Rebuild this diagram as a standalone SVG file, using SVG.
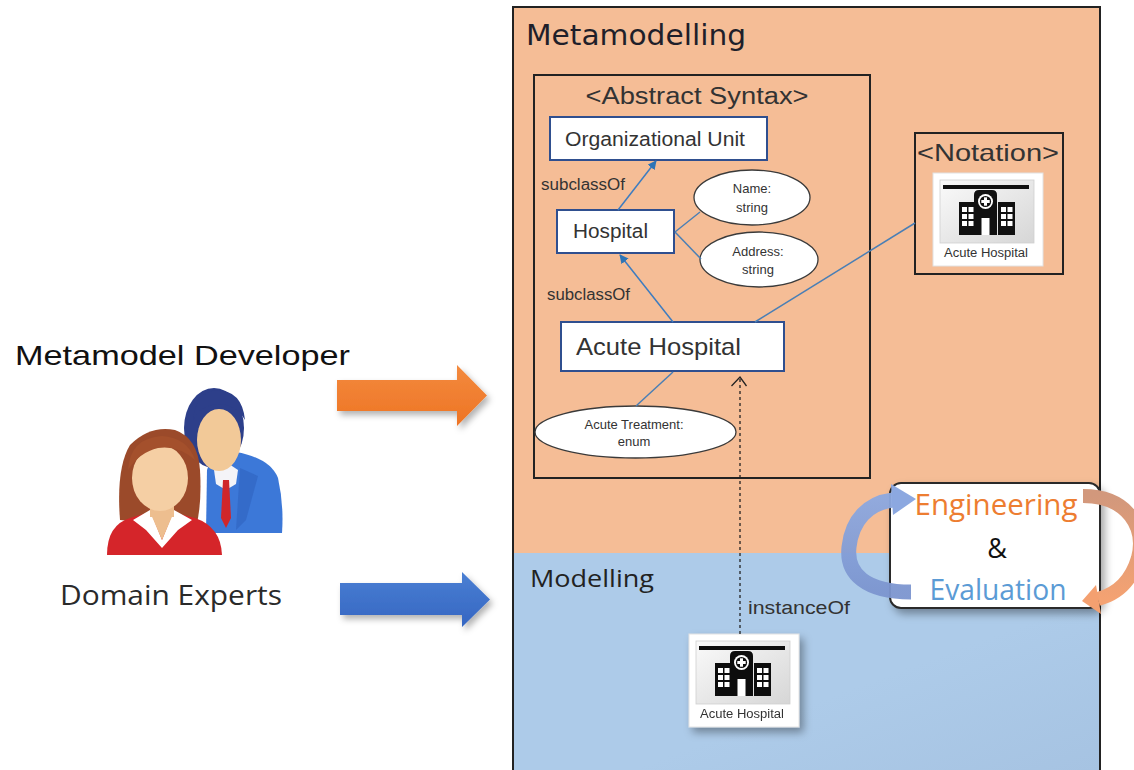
<svg xmlns="http://www.w3.org/2000/svg" width="1134" height="770" viewBox="0 0 1134 770">
  <defs>
    <style>
      .cls { fill: #ffffff; stroke: #2F4F8F; stroke-width: 2; }
      .attr { fill: #ffffff; stroke: #3a3a3a; stroke-width: 1.3; }
      .frame { fill: none; stroke: #222; stroke-width: 2; }
      .t { font-family: "Liberation Sans", Arial, sans-serif; fill: #333; }
      .small { font-family: "Liberation Sans", Arial, sans-serif; font-size: 13px; fill: #333; text-anchor: middle; }
      .link { stroke: #4A7FB5; stroke-width: 1.5; fill: none; }
      .gen { stroke: #3D7CC0; stroke-width: 1.5; fill: none; marker-end: url(#tri); }
    </style>
    <marker id="tri" viewBox="0 0 10 10" refX="9" refY="5" markerWidth="9" markerHeight="9" markerUnits="userSpaceOnUse" orient="auto">
      <path d="M0,0 L10,5 L0,10 z" fill="#2E75B6"/>
    </marker>
    <linearGradient id="orangeArrow" x1="0" y1="0" x2="0" y2="1">
      <stop offset="0" stop-color="#F38A3E"/>
      <stop offset="1" stop-color="#EE7424"/>
    </linearGradient>
    <linearGradient id="blueArrow" x1="0" y1="0" x2="0" y2="1">
      <stop offset="0" stop-color="#4A7FD3"/>
      <stop offset="1" stop-color="#3566C2"/>
    </linearGradient>
    <linearGradient id="iconBg" x1="0" y1="0" x2="1" y2="1">
      <stop offset="0" stop-color="#fafafa"/>
      <stop offset="1" stop-color="#d6d6d6"/>
    </linearGradient>
    <linearGradient id="loopBlue" x1="0" y1="0" x2="0" y2="1">
      <stop offset="0" stop-color="#8CA8E0"/>
      <stop offset="1" stop-color="#7C95CF"/>
    </linearGradient>
    <linearGradient id="loopOrange" x1="0" y1="0" x2="0" y2="1">
      <stop offset="0" stop-color="#D2987C"/>
      <stop offset="1" stop-color="#F4A272"/>
    </linearGradient>
    <linearGradient id="blueBg" x1="0" y1="0" x2="1" y2="1">
      <stop offset="0.6" stop-color="#ADCBE9"/>
      <stop offset="1" stop-color="#A6C3E2"/>
    </linearGradient>
    <filter id="shadow" x="-20%" y="-20%" width="150%" height="150%">
      <feDropShadow dx="4" dy="5" stdDeviation="4" flood-color="#000" flood-opacity="0.35"/>
    </filter>
    <filter id="softShadow" x="-20%" y="-20%" width="150%" height="150%">
      <feDropShadow dx="3" dy="4" stdDeviation="3" flood-color="#000" flood-opacity="0.3"/>
    </filter>

    <!-- hospital notation icon, 110 x 93 -->
    <g id="hospitalIcon">
      <rect x="0" y="0" width="110" height="93" fill="#ffffff" stroke="#e2e2e2" stroke-width="1"/>
      <rect x="7" y="7" width="94" height="63" fill="url(#iconBg)" stroke="#cfcfcf" stroke-width="0.8"/>
      <rect x="10" y="12" width="86" height="4" fill="#111"/>
      <!-- wings -->
      <rect x="26" y="29" width="17" height="33" fill="#111"/>
      <rect x="65" y="29" width="17" height="33" fill="#111"/>
      <!-- tower -->
      <path d="M41,62 V22 Q41,17 46,17 H59 Q64,17 64,22 V62 Z" fill="#111"/>
      <circle cx="52.5" cy="28.5" r="7.5" fill="#ffffff"/>
      <circle cx="52.5" cy="28.5" r="5.6" fill="#111"/>
      <rect x="51" y="24.3" width="3" height="8.4" fill="#fff"/>
      <rect x="48.3" y="27" width="8.4" height="3" fill="#fff"/>
      <rect x="48.5" y="45" width="8" height="17" fill="#fff"/>
      <!-- windows -->
      <g fill="#fff">
        <rect x="29" y="34" width="5" height="5"/><rect x="35.5" y="34" width="5" height="5"/>
        <rect x="29" y="41" width="5" height="5"/><rect x="35.5" y="41" width="5" height="5"/>
        <rect x="29" y="48" width="5" height="5"/><rect x="35.5" y="48" width="5" height="5"/>
        <rect x="68" y="34" width="5" height="5"/><rect x="74.5" y="34" width="5" height="5"/>
        <rect x="68" y="41" width="5" height="5"/><rect x="74.5" y="41" width="5" height="5"/>
        <rect x="68" y="48" width="5" height="5"/><rect x="74.5" y="48" width="5" height="5"/>
      </g>
      <text x="53" y="84" font-family="'Liberation Sans', Arial, sans-serif" font-size="12" fill="#333" text-anchor="middle" textLength="84" lengthAdjust="spacingAndGlyphs">Acute Hospital</text>
    </g>
  </defs>

  <rect width="1134" height="770" fill="#ffffff"/>

  <!-- Metamodelling / Modelling panes -->
  <g id="metamodelling">
    <rect x="513" y="7" width="587" height="546" fill="#F5BD96"/>
    <text x="526" y="45" font-family="'DejaVu Sans', Verdana, sans-serif" font-size="28" fill="#1f1f2a" textLength="220" lengthAdjust="spacingAndGlyphs">Metamodelling</text>
  </g>
  <g id="modelling">
    <rect x="513" y="553" width="587" height="217" fill="url(#blueBg)"/>
    <text x="530" y="587" font-family="'Open Sans', 'Liberation Sans', sans-serif" font-size="24" fill="#222" textLength="124" lengthAdjust="spacingAndGlyphs">Modelling</text>
  </g>
  <path d="M513,770 V7 H1100 V770" class="frame"/>

  <!-- Abstract syntax container -->
  <g id="abstract-syntax">
    <rect x="534" y="75" width="336" height="403" class="frame"/>
    <text x="697" y="104" class="t" font-size="23" text-anchor="middle" textLength="223" lengthAdjust="spacingAndGlyphs">&lt;Abstract Syntax&gt;</text>
  </g>

  <g id="organizational-unit">
    <rect x="550" y="117" width="217" height="43" class="cls"/>
    <text x="565" y="146" class="t" font-size="20" textLength="180" lengthAdjust="spacingAndGlyphs">Organizational Unit</text>
  </g>

  <g id="hospital">
    <rect x="557" y="210" width="117" height="43" class="cls"/>
    <text x="573" y="238" class="t" font-size="20" textLength="75" lengthAdjust="spacingAndGlyphs">Hospital</text>
  </g>

  <g id="acute-hospital">
    <rect x="561" y="322" width="223" height="49" class="cls"/>
    <text x="576" y="355" class="t" font-size="24" textLength="165" lengthAdjust="spacingAndGlyphs">Acute Hospital</text>
  </g>

  <g id="attr-name">
    <ellipse cx="752" cy="197.5" rx="58" ry="27.5" class="attr"/>
    <text x="752" y="193" class="small">Name:</text>
    <text x="752" y="212" class="small">string</text>
  </g>

  <g id="attr-address">
    <ellipse cx="759" cy="259.5" rx="59" ry="27.5" class="attr"/>
    <text x="758" y="256" class="small">Address:</text>
    <text x="758" y="274" class="small">string</text>
  </g>

  <g id="attr-acute-treatment">
    <ellipse cx="635.5" cy="432" rx="100.5" ry="26" class="attr"/>
    <text x="634" y="429" class="small">Acute Treatment:</text>
    <text x="634" y="446" class="small">enum</text>
  </g>

  <g id="notation">
    <rect x="915" y="133" width="148" height="141" class="frame"/>
    <text x="988" y="161" class="t" font-size="24" text-anchor="middle" textLength="142" lengthAdjust="spacingAndGlyphs">&lt;Notation&gt;</text>
    <use href="#hospitalIcon" x="933" y="173"/>
  </g>

  <g id="instance-icon" filter="url(#shadow)">
    <use href="#hospitalIcon" x="689" y="634"/>
  </g>

  <!-- connectors -->
  <g id="connectors">
    <path d="M618,210 L656,161" class="gen"/>
    <text x="541" y="190" class="t" font-size="16" fill="#4a3a30" textLength="84" lengthAdjust="spacingAndGlyphs">subclassOf</text>
    <path d="M673,322 L620,255" class="gen"/>
    <text x="547" y="300" class="t" font-size="16" textLength="83" lengthAdjust="spacingAndGlyphs">subclassOf</text>
    <path d="M675,232 L700,212" class="link"/>
    <path d="M675,232 L701,259" class="link"/>
    <path d="M673,372 L636,406" class="link"/>
    <path d="M755,322 L915,223" class="link"/>
    <!-- instanceOf -->
    <path d="M740,634 V378" stroke="#222" stroke-width="1.3" stroke-dasharray="3,3" fill="none"/>
    <path d="M731.5,386 L740,377 L746.5,386" stroke="#222" stroke-width="1.3" fill="none"/>
    <text x="748" y="614" class="t" font-size="18" fill="#222" textLength="102" lengthAdjust="spacingAndGlyphs">instanceOf</text>
  </g>

  <!-- Engineering & Evaluation cycle -->
  <g id="engineering-evaluation">
    <rect x="890" y="483" width="210" height="125" rx="11" fill="#ffffff" stroke="#2a2a2a" stroke-width="2" filter="url(#shadow)"/>
    <path d="M911,592 C866,592 846,574 849,547 C852,520 868,503 893,500" stroke="url(#loopBlue)" stroke-width="15" fill="none" opacity="0.95"/>
    <polygon points="891,484 916,499 893,515" fill="#8CA8E0"/>
    <path d="M1083,496 C1128,496 1146,528 1138,558 C1131,582 1117,594 1098,599" stroke="url(#loopOrange)" stroke-width="14" fill="none"/>
    <polygon points="1096,585 1082,601 1101,614" fill="#F4A070"/>
    <text x="996" y="515" font-family="'Open Sans', 'Liberation Sans', sans-serif" font-size="30" fill="#ED7D31" text-anchor="middle" textLength="163" lengthAdjust="spacingAndGlyphs">Engineering</text>
    <text x="997" y="558" font-family="'Open Sans', 'Liberation Sans', sans-serif" font-size="27" fill="#111" text-anchor="middle">&amp;</text>
    <text x="998" y="600" font-family="'Open Sans', 'Liberation Sans', sans-serif" font-size="30" fill="#5B9BD5" text-anchor="middle" textLength="137" lengthAdjust="spacingAndGlyphs">Evaluation</text>
  </g>

  <!-- actors -->
  <g id="metamodel-developer">
    <text x="15" y="365" font-family="'Liberation Sans', Arial, sans-serif" font-size="28" fill="#111" textLength="335" lengthAdjust="spacingAndGlyphs">Metamodel Developer</text>
    <path d="M337,380 H457 V365 L487,395.5 L457,426 V411 H337 Z" fill="url(#orangeArrow)" filter="url(#softShadow)"/>
  </g>

  <g id="domain-experts">
    <!-- man behind -->
    <path d="M207,470 Q212,452 236,452 Q270,458 278,478 Q284,505 282,533 H206 Z" fill="#3C78D8"/>
    <path d="M214,470 L226,462 L238,470 L236,484 L226,490 L216,484 Z" fill="#f4f4f8"/>
    <path d="M223,480 L229,480 L231,518 L226,528 L221,518 Z" fill="#D0262A"/>
    <path d="M240,468 L258,476 L246,520 L236,530 Z" fill="#2F63C0" opacity="0.6"/>
    <ellipse cx="214" cy="428" rx="30" ry="40" fill="#2D3F8A"/>
    <ellipse cx="219" cy="440" rx="22" ry="31" fill="#F2C998"/>
    <path d="M193,420 Q196,392 216,390 Q242,390 245,420 Q236,404 217,404 Q200,406 193,420 Z" fill="#2D3F8A"/>
    <!-- woman in front -->
    <path d="M120,520 Q116,468 130,445 Q150,425 175,430 Q198,438 200,470 Q202,505 196,527 Z" fill="#9B4A2A"/>
    <path d="M107,555 Q107,525 130,518 L150,512 H172 L195,518 Q221,527 222,555 Z" fill="#D5252A"/>
    <path d="M133,520 L150,510 L162,540 L174,510 L192,520 L178,530 L162,548 L146,530 Z" fill="#ffffff"/>
    <rect x="150" y="495" width="24" height="22" fill="#EDBE8F"/>
    <path d="M150,512 L162,540 L174,512 Z" fill="#EDBE8F"/>
    <ellipse cx="160" cy="478" rx="28" ry="33" fill="#F5CFA4"/>
    <path d="M128,470 Q130,438 162,436 Q188,438 195,460 Q178,445 158,448 Q140,452 128,470 Z" fill="#A4502C"/>
    <text x="60" y="605" font-family="'Open Sans', 'Liberation Sans', sans-serif" font-size="28" fill="#2a2a2a" textLength="222" lengthAdjust="spacingAndGlyphs">Domain Experts</text>
    <path d="M340,583 H462 V572 L490,599.5 L462,627 V615 H340 Z" fill="url(#blueArrow)" filter="url(#softShadow)"/>
  </g>
</svg>
